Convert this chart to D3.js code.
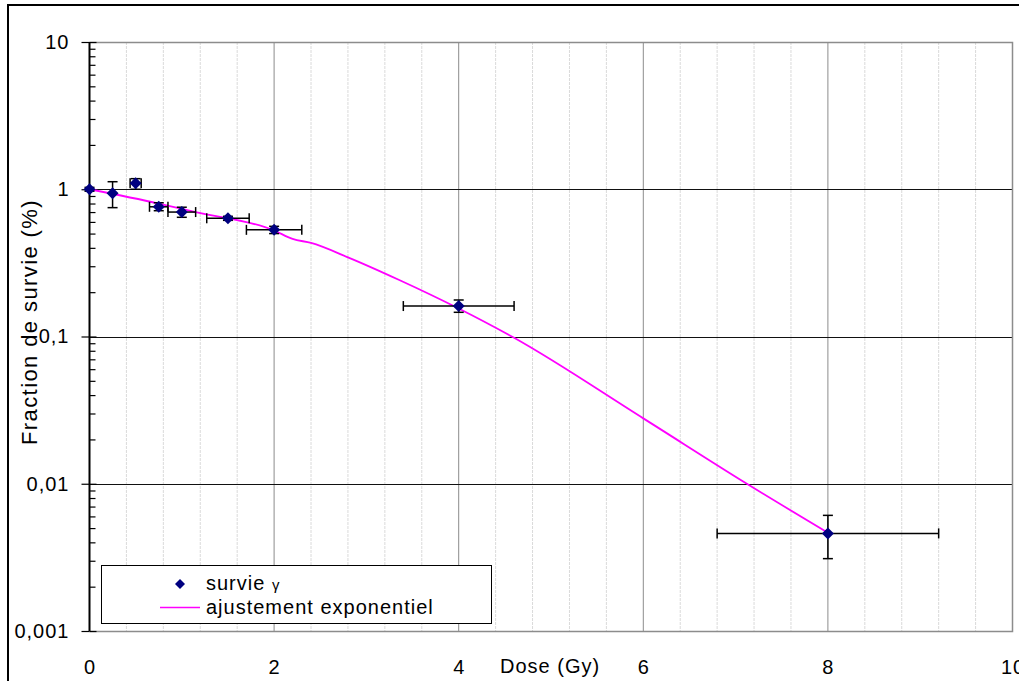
<!DOCTYPE html>
<html>
<head>
<meta charset="utf-8">
<script src="https://cdn.jsdelivr.net/npm/d3@7/dist/d3.min.js"></script>
<style>
  html, body { margin: 0; padding: 0; background: #fff; }
  svg { display: block; }
  text { font-family: "Liberation Sans", Arial, sans-serif; fill: #000; }
</style>
</head>
<body>
<svg id="chart" width="1019" height="681"></svg>
<script>
// ---- data ----
const dose      = [0, 0.25, 0.5, 0.75, 1, 1.5, 2, 4, 8];
const survie    = [1.0, 0.94, 1.10, 0.76, 0.70, 0.635, 0.53, 0.161, 0.0046];
const yErrLow   = [0.97, 0.75, 1.0, 0.715, 0.645, 0.615, 0.50, 0.146, 0.0031];
const yErrHigh  = [1.03, 1.125, 1.18, 0.81, 0.755, 0.655, 0.56, 0.177, 0.0061];
const xErr      = [0, 0, 0.06, 0.1, 0.15, 0.23, 0.3, 0.6, 1.2];

const fitDose   = [0, 0.75, 1.15, 2, 2.2, 2.4, 2.8, 3.35, 4, 4.6, 6, 7.1, 8];
const fitSurvie = [1.0, 0.80, 0.70, 0.525, 0.46, 0.432, 0.345, 0.243, 0.155, 0.098, 0.0278, 0.0102, 0.00465];

const xTicks      = [0, 2, 4, 6, 8, 10];
const xTickLabels = ["0", "2", "4", "6", "8", "10"];
const yTicks      = [10, 1, 0.1, 0.01, 0.001];
const yTickLabels = ["10", "1", "0,1", "0,01", "0,001"];
const xLabel = "Dose (Gy)";
const yLabel = "Fraction de survie (%)";
const legendLabels = ["survie", "\u03B3", "ajustement exponentiel"];

// ---- layout ----
const svg = d3.select("#chart");
const L = 89.5, R = 1012.5, T = 42, B = 631;
const x = d3.scaleLinear().domain([0, 10]).range([L, R]);
const y = d3.scaleLog().domain([0.001, 10]).range([B, T]);
const FONT = 20, LS = "1px";

// outer frame
svg.append("rect").attr("x", 8).attr("y", 5).attr("width", 1040).attr("height", 700)
  .attr("fill", "#fff").attr("stroke", "#000").attr("stroke-width", 2);

// minor vertical grid
const minorX = d3.range(0, 10.001, 0.4).filter(v => Math.abs(v / 2 - Math.round(v / 2)) > 1e-6);
svg.append("g").selectAll("line").data(minorX).join("line")
  .attr("x1", d => x(d)).attr("x2", d => x(d)).attr("y1", T).attr("y2", B)
  .attr("stroke", "#dadada").attr("stroke-width", 1).attr("stroke-dasharray", "3,1");

// major vertical grid
svg.append("g").selectAll("line").data([2, 4, 6, 8]).join("line")
  .attr("x1", d => x(d)).attr("x2", d => x(d)).attr("y1", T).attr("y2", B)
  .attr("stroke", "#8c8c8c").attr("stroke-width", 1);

// horizontal major grid
svg.append("g").selectAll("line").data([1, 0.1, 0.01]).join("line")
  .attr("x1", L).attr("x2", R).attr("y1", d => Math.round(y(d)) + 0.5).attr("y2", d => Math.round(y(d)) + 0.5)
  .attr("stroke", "#111").attr("stroke-width", 1);

// plot border (top, right, bottom)
svg.append("path")
  .attr("d", `M${L},${T + 0.5} H${R} V${B + 0.5} H${L}`)
  .attr("fill", "none").attr("stroke", "#8c8c8c").attr("stroke-width", 1.5);

// y axis: labels + major outside ticks
const yAxis = d3.axisLeft(y).tickValues(yTicks)
  .tickFormat((d, i) => yTickLabels[i]).tickSize(8).tickPadding(12);
const gy = svg.append("g").attr("transform", `translate(${L},0)`).call(yAxis);
gy.select(".domain").remove();
gy.selectAll(".tick line").attr("stroke", "#000").attr("stroke-width", 1.2);
gy.selectAll(".tick text").style("font-size", FONT + "px").style("letter-spacing", LS)
  .attr("font-family", "Liberation Sans, Arial, sans-serif");

// inner ticks (major + minor)
const minorY = [];
[0.001, 0.01, 0.1, 1].forEach(dec => { for (let k = 2; k <= 9; k++) minorY.push(dec * k); });
const yInner = d3.axisRight(y).tickValues(minorY).tickFormat("").tickSize(6);
const gyi = svg.append("g").attr("transform", `translate(${L},0)`).call(yInner);
gyi.select(".domain").remove();
gyi.selectAll(".tick line").attr("stroke", "#000").attr("stroke-width", 1.2);
const yInnerMajor = d3.axisRight(y).tickValues(yTicks).tickFormat("").tickSize(7);
const gyim = svg.append("g").attr("transform", `translate(${L},0)`).call(yInnerMajor);
gyim.select(".domain").remove();
gyim.selectAll(".tick line").attr("stroke", "#000").attr("stroke-width", 1.2);

// y axis line
svg.append("line").attr("x1", L).attr("x2", L).attr("y1", T).attr("y2", B)
  .attr("stroke", "#000").attr("stroke-width", 2);

// x axis labels
const xAxis = d3.axisBottom(x).tickValues(xTicks)
  .tickFormat((d, i) => xTickLabels[i]).tickSize(0).tickPadding(29);
const gx = svg.append("g").attr("transform", `translate(0,${B})`).call(xAxis);
gx.select(".domain").remove();
gx.selectAll(".tick text").style("font-size", FONT + "px").style("letter-spacing", LS)
  .attr("font-family", "Liberation Sans, Arial, sans-serif");

svg.append("text").attr("x", 500).attr("y", 673).text(xLabel)
  .style("font-size", FONT + "px").style("letter-spacing", LS);

svg.append("text")
  .attr("transform", `translate(37,${322}) rotate(-90)`)
  .attr("text-anchor", "middle").text(yLabel)
  .style("font-size", "22px").style("letter-spacing", "1.4px");

// fit curve
const line = d3.line().x((d, i) => x(fitDose[i])).y((d, i) => y(fitSurvie[i])).curve(d3.curveMonotoneX);
svg.append("path").datum(fitDose).attr("d", line)
  .attr("fill", "none").attr("stroke", "#ff00ff").attr("stroke-width", 1.8);

// error bars
const eb = svg.append("g").attr("stroke", "#000").attr("stroke-width", 1.5).attr("fill", "none");
const cap = 5;
dose.forEach((d, i) => {
  const cx = x(d), cy = y(survie[i]);
  const y1 = y(yErrLow[i]), y2 = y(yErrHigh[i]);
  eb.append("line").attr("x1", cx).attr("x2", cx).attr("y1", y1).attr("y2", y2);
  eb.append("line").attr("x1", cx - cap).attr("x2", cx + cap).attr("y1", y1).attr("y2", y1);
  eb.append("line").attr("x1", cx - cap).attr("x2", cx + cap).attr("y1", y2).attr("y2", y2);
  if (xErr[i] > 0) {
    const x1 = x(d - xErr[i]), x2 = x(d + xErr[i]);
    eb.append("line").attr("x1", x1).attr("x2", x2).attr("y1", cy).attr("y2", cy);
    eb.append("line").attr("x1", x1).attr("x2", x1).attr("y1", cy - cap).attr("y2", cy + cap);
    eb.append("line").attr("x1", x2).attr("x2", x2).attr("y1", cy - cap).attr("y2", cy + cap);
  }
});

// markers
const diamond = "M0,-6L6,0L0,6L-6,0Z";
svg.append("g").selectAll("path").data(dose).join("path")
  .attr("d", diamond)
  .attr("transform", (d, i) => `translate(${x(d)},${y(survie[i])})`)
  .attr("fill", "#000080");

// legend
const lg = svg.append("g");
lg.append("rect").attr("x", 101.5).attr("y", 565.5).attr("width", 390).attr("height", 58)
  .attr("fill", "#fff").attr("stroke", "#000").attr("stroke-width", 1);
lg.append("path").attr("d", "M0,-5L5,0L0,5L-5,0Z").attr("transform", "translate(180,584)")
  .attr("fill", "#000080");
lg.append("text").attr("x", 206).attr("y", 590).text(legendLabels[0])
  .style("font-size", FONT + "px").style("letter-spacing", LS);
lg.append("text").attr("x", 272).attr("y", 590).text(legendLabels[1])
  .style("font-size", "15px");
lg.append("line").attr("x1", 160).attr("x2", 200).attr("y1", 607.5).attr("y2", 607.5)
  .attr("stroke", "#ff00ff").attr("stroke-width", 1.5);
lg.append("text").attr("x", 206).attr("y", 614).text(legendLabels[2])
  .style("font-size", FONT + "px").style("letter-spacing", LS);
</script>
</body>
</html>
